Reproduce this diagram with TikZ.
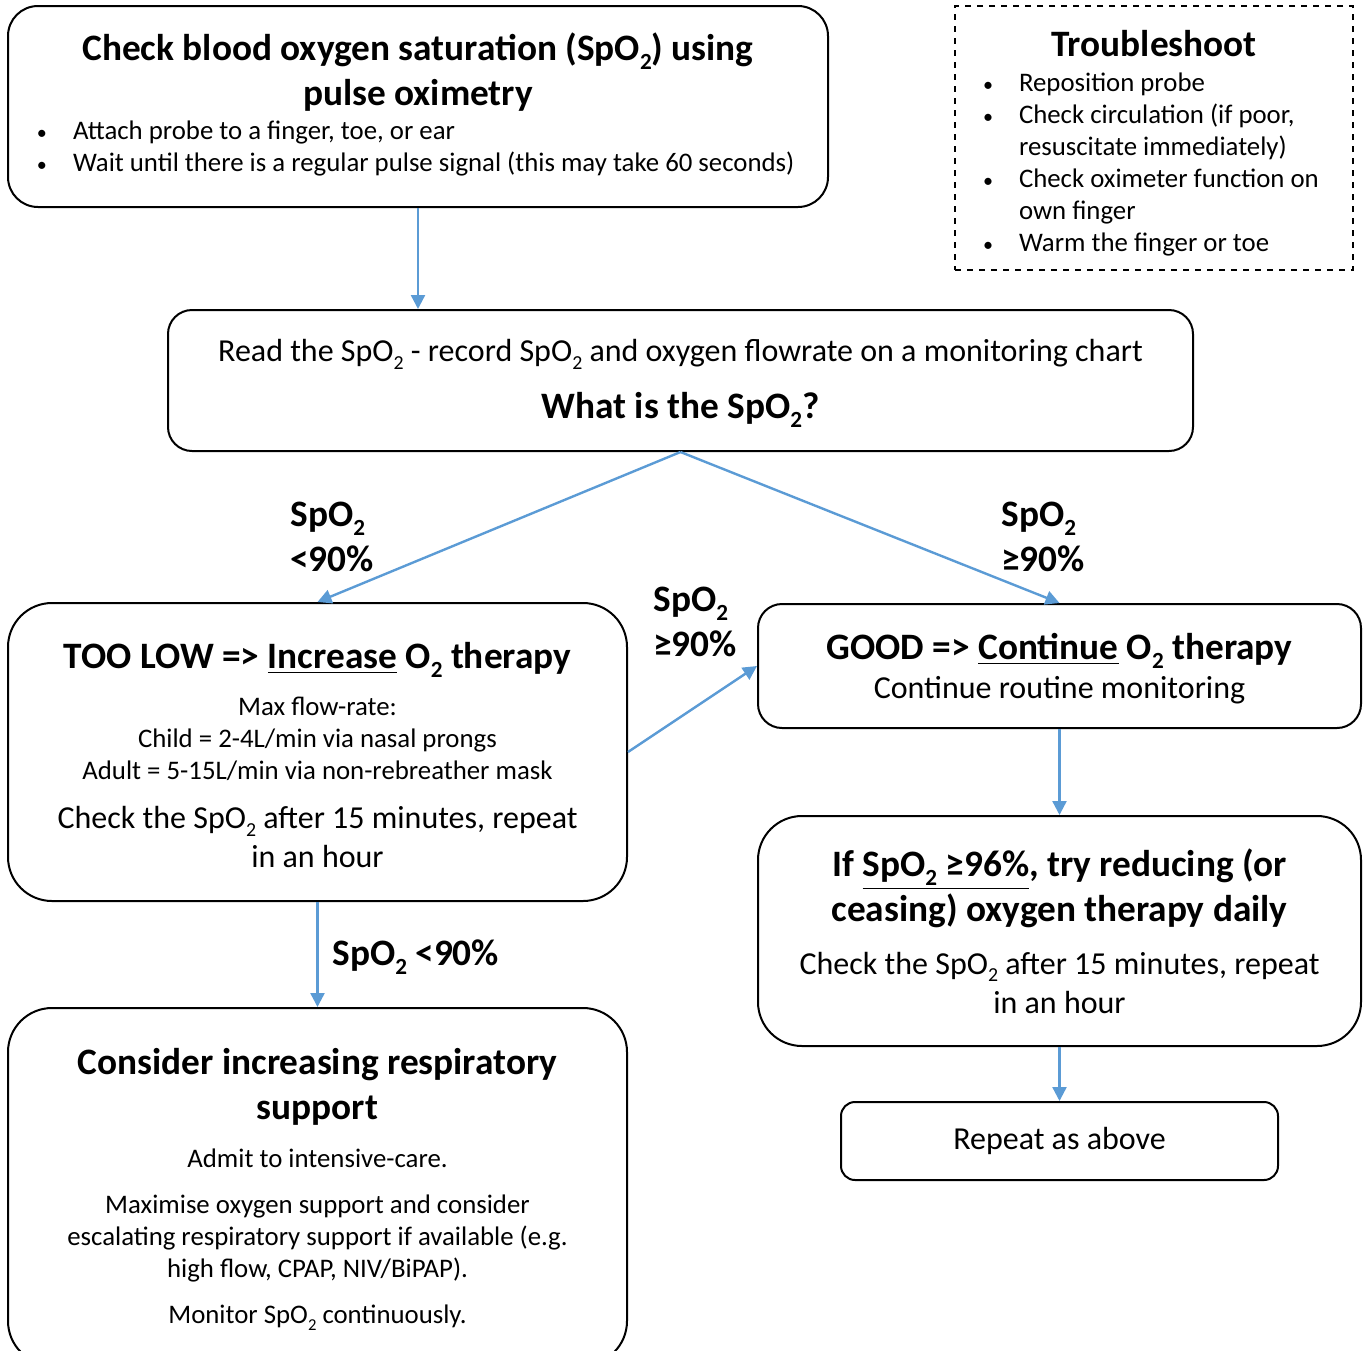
\documentclass[tikz,border=0pt]{standalone}
\usepackage{fontspec}
\usepackage{graphicx}
\setmainfont{Carlito}
\usetikzlibrary{arrows.meta,positioning}
\definecolor{flowblue}{HTML}{5B9BD5}
\newcommand{\two}{\raisebox{-0.24em}{\scalebox{0.62}{2}}}
\newcommand{\spo}{SpO\two}
\newcommand{\otwo}{O\two}
\newcommand{\headfont}{\fontsize{18.65}{22.5}\selectfont\bfseries}
\newcommand{\bodyfont}{\fontsize{16}{19.5}\selectfont}
\newcommand{\smallfont}{\fontsize{13.4}{16}\selectfont}
\newcommand{\bul}[1]{\makebox[#1][r]{\scalebox{0.75}{•}\hspace{13pt}}}
\newcommand{\boxtext}[2]{\parbox{#1}{\centering #2}}

\begin{document}
\begin{tikzpicture}[x=0.5pt,y=-0.5pt,
    box/.style={draw, line width=1pt, inner sep=0pt, align=center},
    flow/.style={draw=flowblue, line width=1.2pt, -{Triangle[width=7pt,length=7pt]}},
    cond/.style={font=\headfont, align=left, inner sep=0pt}]
  \clip (0,0) rectangle (1365,1350);

  % boxes
  \node[box, rounded corners=15pt, minimum width=410pt, minimum height=100.5pt] (check) at (418,106.5)
    {\parbox{410pt}{\centering{\headfont Check blood oxygen saturation (\spo) using\\ pulse oximetry\par}
      \vspace{1pt}\raggedright\smallfont
      \bul{32.5pt}Attach probe to a finger, toe, or ear\\
      \bul{32.5pt}Wait until there is a regular pulse signal (this may take 60 seconds)\vspace*{2pt}}};

  \node[box, dashed, minimum width=199pt, minimum height=132pt] (trouble) at (1154,138)
    {\parbox{199pt}{\vspace*{5.5pt}\centering{\headfont Troubleshoot\par}
      \vspace{1.5pt}\raggedright\smallfont
      \bul{32pt}Reposition probe\\
      \bul{32pt}Check circulation (if poor,\\
      \hspace*{32pt}resuscitate immediately)\\
      \bul{32pt}Check oximeter function on\\
      \hspace*{32pt}own finger\\
      \bul{32pt}Warm the finger or toe}};

  \node[box, rounded corners=12pt, minimum width=512.5pt, minimum height=70.5pt] (read) at (680.5,380.5)
    {\boxtext{512pt}{\vspace*{3pt}{\bodyfont Read the \spo{} - record \spo{} and oxygen flowrate on a monitoring chart\par}
     \vspace{6pt}{\headfont What is the \spo?\par}}};

  \node[box, rounded corners=22pt, minimum width=309.5pt, minimum height=149pt] (low) at (317.5,752)
    {\boxtext{309pt}{\vspace*{3.5pt}{\headfont TOO LOW => \underline{Increase} \otwo{} therapy\par}
     \vspace{7.5pt}{\smallfont Max flow-rate:\\ Child = 2-4L/min via nasal prongs\\ Adult = 5-15L/min via non-rebreather mask\par}
     \vspace{5pt}{\bodyfont Check the \spo{} after 15 minutes, repeat\\ in an hour\par}}};

  \node[box, rounded corners=12pt, minimum width=301.5pt, minimum height=62pt] (good) at (1059.5,666)
    {\boxtext{301pt}{\vspace*{3pt}{\headfont GOOD => \underline{Continue} \otwo{} therapy\par}
     {\bodyfont Continue routine monitoring\par}}};

  \node[box, rounded corners=22pt, minimum width=309.5pt, minimum height=178.5pt] (escalate) at (317.5,1186.5)
    {\boxtext{309pt}{\vspace*{3pt}{\headfont Consider increasing respiratory\\ support\par}
     \vspace{8pt}{\smallfont Admit to intensive-care.\par}
     \vspace{7pt}{\smallfont Maximise oxygen support and consider\\ escalating respiratory support if available (e.g.\\ high flow, CPAP, NIV/BiPAP).\par}
     \vspace{7pt}{\smallfont Monitor \spo{} continuously.\par}}};

  \node[box, rounded corners=22pt, minimum width=301.5pt, minimum height=115pt] (reduce) at (1059.5,931)
    {\boxtext{301pt}{{\headfont If \underline{\spo{} ≥96\%}, try reducing (or\\ ceasing) oxygen therapy daily\par}
     \vspace{7pt}{\bodyfont Check the \spo{} after 15 minutes, repeat\\ in an hour\par}}};

  \node[box, rounded corners=7pt, minimum width=218.5pt, minimum height=39pt, font=\bodyfont] (repeat) at (1059.5,1141)
    {Repeat as above};

  % connectors
  \draw[flow] (check.south) -- (check.south |- read.north);
  \draw[flow] (read.south) -- (low.north);
  \draw[flow] (read.south) -- (good.north);
  \draw[flow] (low.east) -- (good.west);
  \draw[flow] (low.south) -- (escalate.north);
  \draw[flow] (good.south) -- (reduce.north);
  \draw[flow] (reduce.south) -- (repeat.north);

  % conditions
  \node[cond, anchor=west] (lowcond) at (290,537) {\spo\\<90\%};
  \node[cond, anchor=west] (okcond) at (1001,537) {\spo\\≥90\%};
  \node[cond, anchor=west] (backcond) at (653,622) {\spo\\≥90\%};
  \node[cond, anchor=west] (worsecond) at (332,957) {\spo{} <90\%};
\end{tikzpicture}
\end{document}
